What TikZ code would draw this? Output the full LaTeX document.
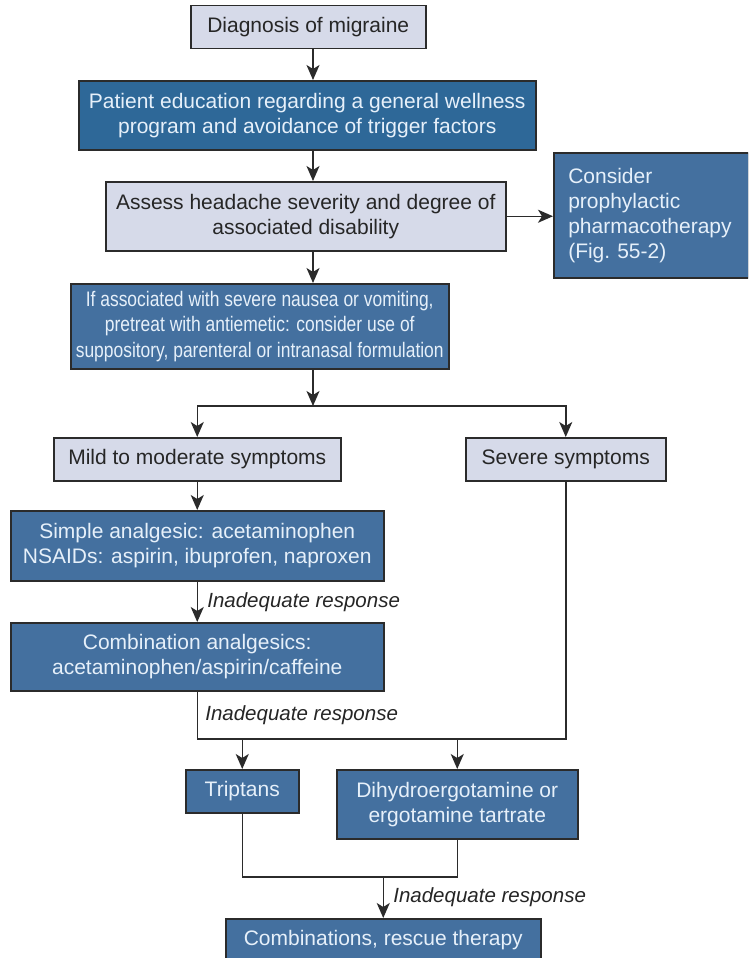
\documentclass[tikz,border=0pt]{standalone}
\usepackage{fontspec}
\setmainfont{Liberation Sans}
\newfontfamily\squeezed{Liberation Sans}[FakeStretch=0.83]
\usetikzlibrary{arrows.meta}
\definecolor{boxedge}{HTML}{2B2B2B}
\definecolor{lightfill}{HTML}{D6DAE9}
\definecolor{bluefill}{HTML}{44709F}
\definecolor{deepfill}{HTML}{2E6898}
\definecolor{bluetext}{HTML}{E6F0FA}
\definecolor{darktext}{HTML}{262626}
\tikzset{
  box/.style={draw=boxedge, line width=1.5pt, inner sep=0pt, anchor=north west,
              align=center, font=\fontsize{21}{25}\selectfont},
  lightbox/.style={box, fill=lightfill, text=darktext},
  bluebox/.style={box, fill=bluefill, text=bluetext},
  deepbox/.style={box, fill=deepfill, text=bluetext},
  link/.style={draw=boxedge, line width=1.5pt},
  arr/.style={link, -{Stealth[length=15pt,width=13pt,inset=4pt]}},
  resp/.style={font=\fontsize{20.5}{24}\selectfont\itshape, text=darktext},
}

\begin{document}
\begin{tikzpicture}[x=1pt, y=-1pt]
    \clip (0,0) rectangle (748,958);
    \fill[white] (0,0) rectangle (748,958);
    \node[lightbox, minimum width=235pt, minimum height=43pt] (diag) at (190,5) {Diagnosis of migraine};
    \node[deepbox, minimum width=457pt, minimum height=69pt] (educ) at (78,80) {Patient education regarding a general wellness\\program and avoidance of trigger factors};
    \node[lightbox, minimum width=400pt, minimum height=69pt] (assess) at (105,181) {Assess headache severity and degree of\\associated disability};
    \node[bluebox, minimum width=195pt, minimum height=125pt, text width=166pt, align=left] (proph) at (553,152) {Consider\\prophylactic\\pharmacotherapy\\(Fig.\ 55-2)};
    \node[bluebox, minimum width=378pt, minimum height=85pt, font=\fontsize{21}{25.5}\selectfont\squeezed] (nausea) at (70,283) {If associated with severe nausea or vomiting,\\pretreat with antiemetic: consider use of\\suppository, parenteral or intranasal formulation};
    \node[lightbox, minimum width=287pt, minimum height=43pt] (mild) at (53,437) {Mild to moderate symptoms};
    \node[lightbox, minimum width=200pt, minimum height=43pt] (severe) at (465,437) {Severe symptoms};
    \node[bluebox, minimum width=373pt, minimum height=70pt] (simple) at (10,510) {Simple analgesic: acetaminophen\\NSAIDs: aspirin, ibuprofen, naproxen};
    \node[bluebox, minimum width=373pt, minimum height=68pt] (combo) at (10,622) {Combination analgesics:\\acetaminophen/aspirin/caffeine};
    \node[bluebox, minimum width=113pt, minimum height=43pt] (trip) at (185,769) {Triptans};
    \node[bluebox, minimum width=241pt, minimum height=69pt] (ergot) at (336,769) {Dihydroergotamine or\\ergotamine tartrate};
    \node[bluebox, minimum width=315pt, minimum height=43pt] (rescue) at (225,918) {Combinations, rescue therapy};
    % main column
    \coordinate (spine) at (313,0);
    \coordinate (fork) at (313,406);
    \draw[arr] (diag.south -| spine) -- (educ.north -| spine);
    \draw[arr] (educ.south -| spine) -- (assess.north -| spine);
    \draw[arr] (assess.east) -- (proph.west |- assess.east);
    \draw[arr] (assess.south -| spine) -- (nausea.north -| spine);
    \draw[arr] (nausea.south -| spine) -- (fork);
    \draw[arr] (fork) -| (mild.north);
    \draw[arr] (fork) -| (severe.north);
    % mild branch
    \draw[arr] (mild.south) -- (simple.north);
    \draw[arr] (simple.south) -- node[resp, right, xshift=6pt] {Inadequate response} (combo.north);
    % joining the severe branch
    \coordinate (bar) at (0,739);
    \draw[link] (combo.south) |- node[resp, right, pos=0.25, xshift=4pt] {Inadequate response} (bar -| severe.south) -- (severe.south);
    \draw[arr] (bar -| trip.north) -- (trip.north);
    \draw[arr] (bar -| ergot.north) -- (ergot.north);
    % rescue
    \coordinate (low) at (0,877);
    \draw[link] (trip.south) |- (low -| ergot.south) -- (ergot.south);
    \draw[arr] (low -| rescue.north) -- node[resp, right, xshift=6pt] {Inadequate response} (rescue.north);
  \end{tikzpicture}
\end{document}
